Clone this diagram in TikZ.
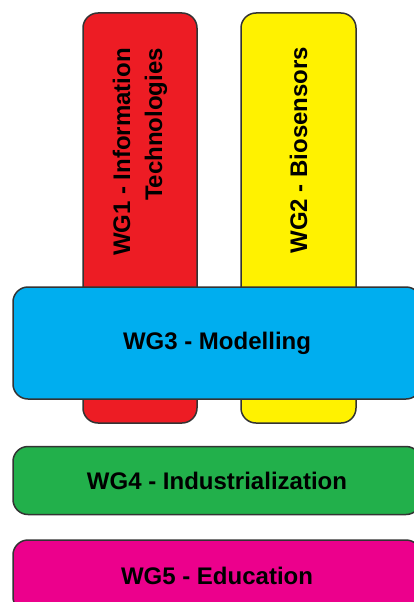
\documentclass[tikz,border=0pt]{standalone}
\usepackage{fontspec}
\setmainfont{Liberation Sans}
\usetikzlibrary{positioning}
\definecolor{wgred}{HTML}{ED1C24}
\definecolor{wgyellow}{HTML}{FFF200}
\definecolor{wgblue}{HTML}{00AEEF}
\definecolor{wggreen}{HTML}{22B04B}
\definecolor{wgpink}{HTML}{EC008C}
\begin{document}
\begin{tikzpicture}[x=1pt, y=-1pt,
    wgbox/.style={draw=black!80, line width=1.5pt, rounded corners=15pt, inner sep=0pt, font=\fontsize{24}{32}\selectfont\bfseries},
    wgtext/.style={rotate=90, align=right, font=\fontsize{24}{32}\selectfont\bfseries}
]
\fill[white] (0,0) rectangle (414,602);
\clip (0,0) rectangle (414,602);
% two vertical groups behind the modelling bar
\node[wgbox, fill=wgred, minimum width=114pt, minimum height=410pt] (wg1) at (140,218) {};
\node[wgbox, fill=wgyellow, minimum width=115pt, minimum height=410pt] (wg2) at (298.5,218) {};
\node[wgtext] (wg1text) at (140,152) {WG1 - Information\\Technologies};
\node[wgtext] (wg2text) at (298.5,150) {WG2 - Biosensors};
% horizontal groups
\node[wgbox, fill=wgblue, minimum width=408pt, minimum height=112pt] (wg3) at (217,343) {WG3 - Modelling};
\node[wgbox, fill=wggreen, minimum width=408pt, minimum height=68pt, below=46pt of wg3] (wg4) {WG4 - Industrialization};
\node[wgbox, fill=wgpink, minimum width=408pt, minimum height=72pt, below=24pt of wg4] (wg5) {WG5 - Education};
\end{tikzpicture}
\end{document}
